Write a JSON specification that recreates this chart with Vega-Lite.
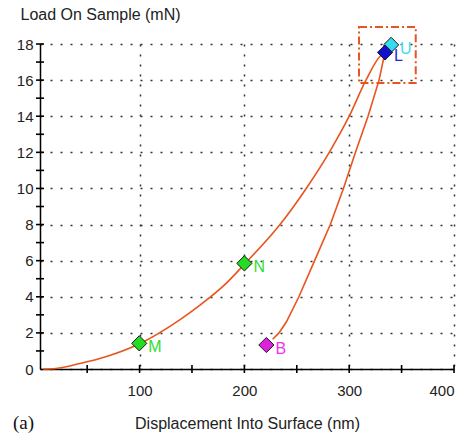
{
  "$schema": "https://vega.github.io/schema/vega-lite/v6.json",
  "width": 414,
  "height": 325,
  "autosize": "none",
  "padding": {"left": 40, "top": 44, "right": 15, "bottom": 67},
  "background": "white",
  "title": {"text": "(a)", "orient": "bottom", "anchor": "start", "frame": "group", "font": "Liberation Serif", "fontSize": 19, "fontWeight": "normal", "color": "#111", "dx": -27, "dy": -24, "offset": 6},
  "config": {"view": {"stroke": null}, "font": "Liberation Sans"},
  "datasets": {
    "load": [
      {"i": 0, "h": 8, "p": 0},
      {"i": 1, "h": 20, "p": 0.03},
      {"i": 2, "h": 43, "p": 0.3},
      {"i": 3, "h": 70, "p": 0.72},
      {"i": 4, "h": 100, "p": 1.4},
      {"i": 5, "h": 139, "p": 2.75},
      {"i": 6, "h": 158, "p": 3.55},
      {"i": 7, "h": 180, "p": 4.6},
      {"i": 8, "h": 200, "p": 5.8},
      {"i": 9, "h": 234, "p": 8.0},
      {"i": 10, "h": 259, "p": 10.0},
      {"i": 11, "h": 281, "p": 12.0},
      {"i": 12, "h": 300, "p": 14.0},
      {"i": 13, "h": 316, "p": 16.0},
      {"i": 14, "h": 330, "p": 17.35},
      {"i": 15, "h": 334, "p": 17.5}
    ],
    "unload": [
      {"i": 0, "h": 334, "p": 17.5},
      {"i": 1, "h": 328.5, "p": 16.0},
      {"i": 2, "h": 318, "p": 14.0},
      {"i": 3, "h": 306, "p": 12.0},
      {"i": 4, "h": 294.5, "p": 10.0},
      {"i": 5, "h": 282, "p": 8.0},
      {"i": 6, "h": 267, "p": 6.0},
      {"i": 7, "h": 252, "p": 4.0},
      {"i": 8, "h": 240, "p": 2.6},
      {"i": 9, "h": 233, "p": 2.0},
      {"i": 10, "h": 227, "p": 1.65}
    ],
    "box": [{"h": 309.4, "h2": 363.5, "p": 15.84, "p2": 18.94}],
    "xticks": [{"h": 50}, {"h": 100}, {"h": 150}, {"h": 200}, {"h": 250}, {"h": 300}, {"h": 350}, {"h": 400}],
    "yticks": [{"p": 1}, {"p": 2}, {"p": 3}, {"p": 4}, {"p": 5}, {"p": 6}, {"p": 7}, {"p": 8}, {"p": 9}, {"p": 10}, {"p": 11}, {"p": 12}, {"p": 13}, {"p": 14}, {"p": 15}, {"p": 16}, {"p": 17}, {"p": 18}],
    "points": [
      {"label": "M", "h": 99.7, "p": 1.42},
      {"label": "N", "h": 200, "p": 5.85},
      {"label": "B", "h": 221, "p": 1.33},
      {"label": "U", "h": 340, "p": 17.95},
      {"label": "L", "h": 334.2, "p": 17.53}
    ]
  },
  "layer": [
    {
      "data": {"name": "load"},
      "mark": {"type": "line", "color": "#E8541E", "strokeWidth": 1.6, "interpolate": "monotone"},
      "encoding": {
        "x": {"field": "h", "type": "quantitative", "title": "Displacement Into Surface (nm)",
          "scale": {"domain": [5, 400], "nice": false, "zero": false},
          "axis": {"values": [100, 200, 300, 400], "tickCount": 20, "grid": true, "gridDash": [2, 8], "gridColor": "#333", "gridWidth": 1.5,
            "domainColor": "#000", "domainWidth": 1.5, "ticks": false, "labelFontSize": 15, "labelColor": "#222", "labelPadding": 14, "labelOverlap": false,
            "titleFontSize": 16, "titleFontWeight": "normal", "titleColor": "#222",
            "titleY": 59.5, "titleBaseline": "alphabetic"}},
        "y": {"field": "p", "type": "quantitative", "title": "Load On Sample (mN)",
          "scale": {"domain": [0, 18], "nice": false, "zero": false},
          "axis": {"values": [0, 2, 4, 6, 8, 10, 12, 14, 16, 18], "tickCount": 20, "grid": true, "gridDash": [2, 8], "gridColor": "#333", "gridWidth": 1.5,
            "domainColor": "#000", "domainWidth": 1.5, "ticks": false, "labelFontSize": 15, "labelColor": "#222", "labelPadding": 7, "labelOverlap": false,
            "titleFontSize": 16, "titleFontWeight": "normal", "titleColor": "#222",
            "titleAngle": 0, "titleAlign": "left", "titleX": -20, "titleY": -24.5, "titleBaseline": "alphabetic"}},
        "order": {"field": "i", "type": "quantitative"}
      }
    },
    {
      "data": {"name": "unload"},
      "mark": {"type": "line", "color": "#E8541E", "strokeWidth": 1.6, "interpolate": "linear"},
      "encoding": {
        "x": {"field": "h", "type": "quantitative", "title": "Displacement Into Surface (nm)"},
        "y": {"field": "p", "type": "quantitative", "title": "Load On Sample (mN)"},
        "order": {"field": "i", "type": "quantitative"}
      }
    },
    {
      "data": {"name": "box"},
      "mark": {"type": "rect", "filled": false, "stroke": "#E8541E", "strokeWidth": 2, "strokeDash": [8, 3, 2, 3]},
      "encoding": {
        "x": {"field": "h", "type": "quantitative", "title": "Displacement Into Surface (nm)"},
        "x2": {"field": "h2"},
        "y": {"field": "p", "type": "quantitative", "title": "Load On Sample (mN)"},
        "y2": {"field": "p2"}
      }
    },
    {
      "data": {"name": "xticks"},
      "mark": {"type": "tick", "orient": "vertical", "color": "#000", "size": 8, "thickness": 1.6, "opacity": 1},
      "encoding": {
        "x": {"field": "h", "type": "quantitative", "title": "Displacement Into Surface (nm)"},
        "y": {"datum": 0, "type": "quantitative", "title": "Load On Sample (mN)"}
      }
    },
    {
      "data": {"name": "yticks"},
      "mark": {"type": "tick", "orient": "horizontal", "color": "#000", "size": 8, "thickness": 1.6, "opacity": 1},
      "encoding": {
        "x": {"datum": 5, "type": "quantitative", "title": "Displacement Into Surface (nm)"},
        "y": {"field": "p", "type": "quantitative", "title": "Load On Sample (mN)"}
      }
    },
    {
      "data": {"name": "points"},
      "mark": {"type": "point", "shape": "diamond", "filled": true, "size": 230, "stroke": "#1a1a1a", "strokeWidth": 1, "opacity": 1},
      "encoding": {
        "x": {"field": "h", "type": "quantitative", "title": "Displacement Into Surface (nm)"},
        "y": {"field": "p", "type": "quantitative", "title": "Load On Sample (mN)"},
        "fill": {"field": "label", "type": "nominal", "legend": null,
          "scale": {"domain": ["M", "N", "B", "U", "L"], "range": ["#22DD22", "#22DD22", "#DD22DD", "#33DDEE", "#1111CC"]}}
      }
    },
    {
      "data": {"name": "points"},
      "mark": {"type": "text", "align": "left", "baseline": "middle", "dx": 9, "dy": 4, "fontSize": 16, "font": "Liberation Sans"},
      "encoding": {
        "x": {"field": "h", "type": "quantitative", "title": "Displacement Into Surface (nm)"},
        "y": {"field": "p", "type": "quantitative", "title": "Load On Sample (mN)"},
        "text": {"field": "label"},
        "color": {"field": "label", "type": "nominal", "legend": null,
          "scale": {"domain": ["M", "N", "B", "U", "L"], "range": ["#33DD33", "#33DD33", "#EE33EE", "#44DDEE", "#2222DD"]}}
      }
    }
  ],
  "resolve": {"scale": {"fill": "independent", "color": "independent"}}
}
